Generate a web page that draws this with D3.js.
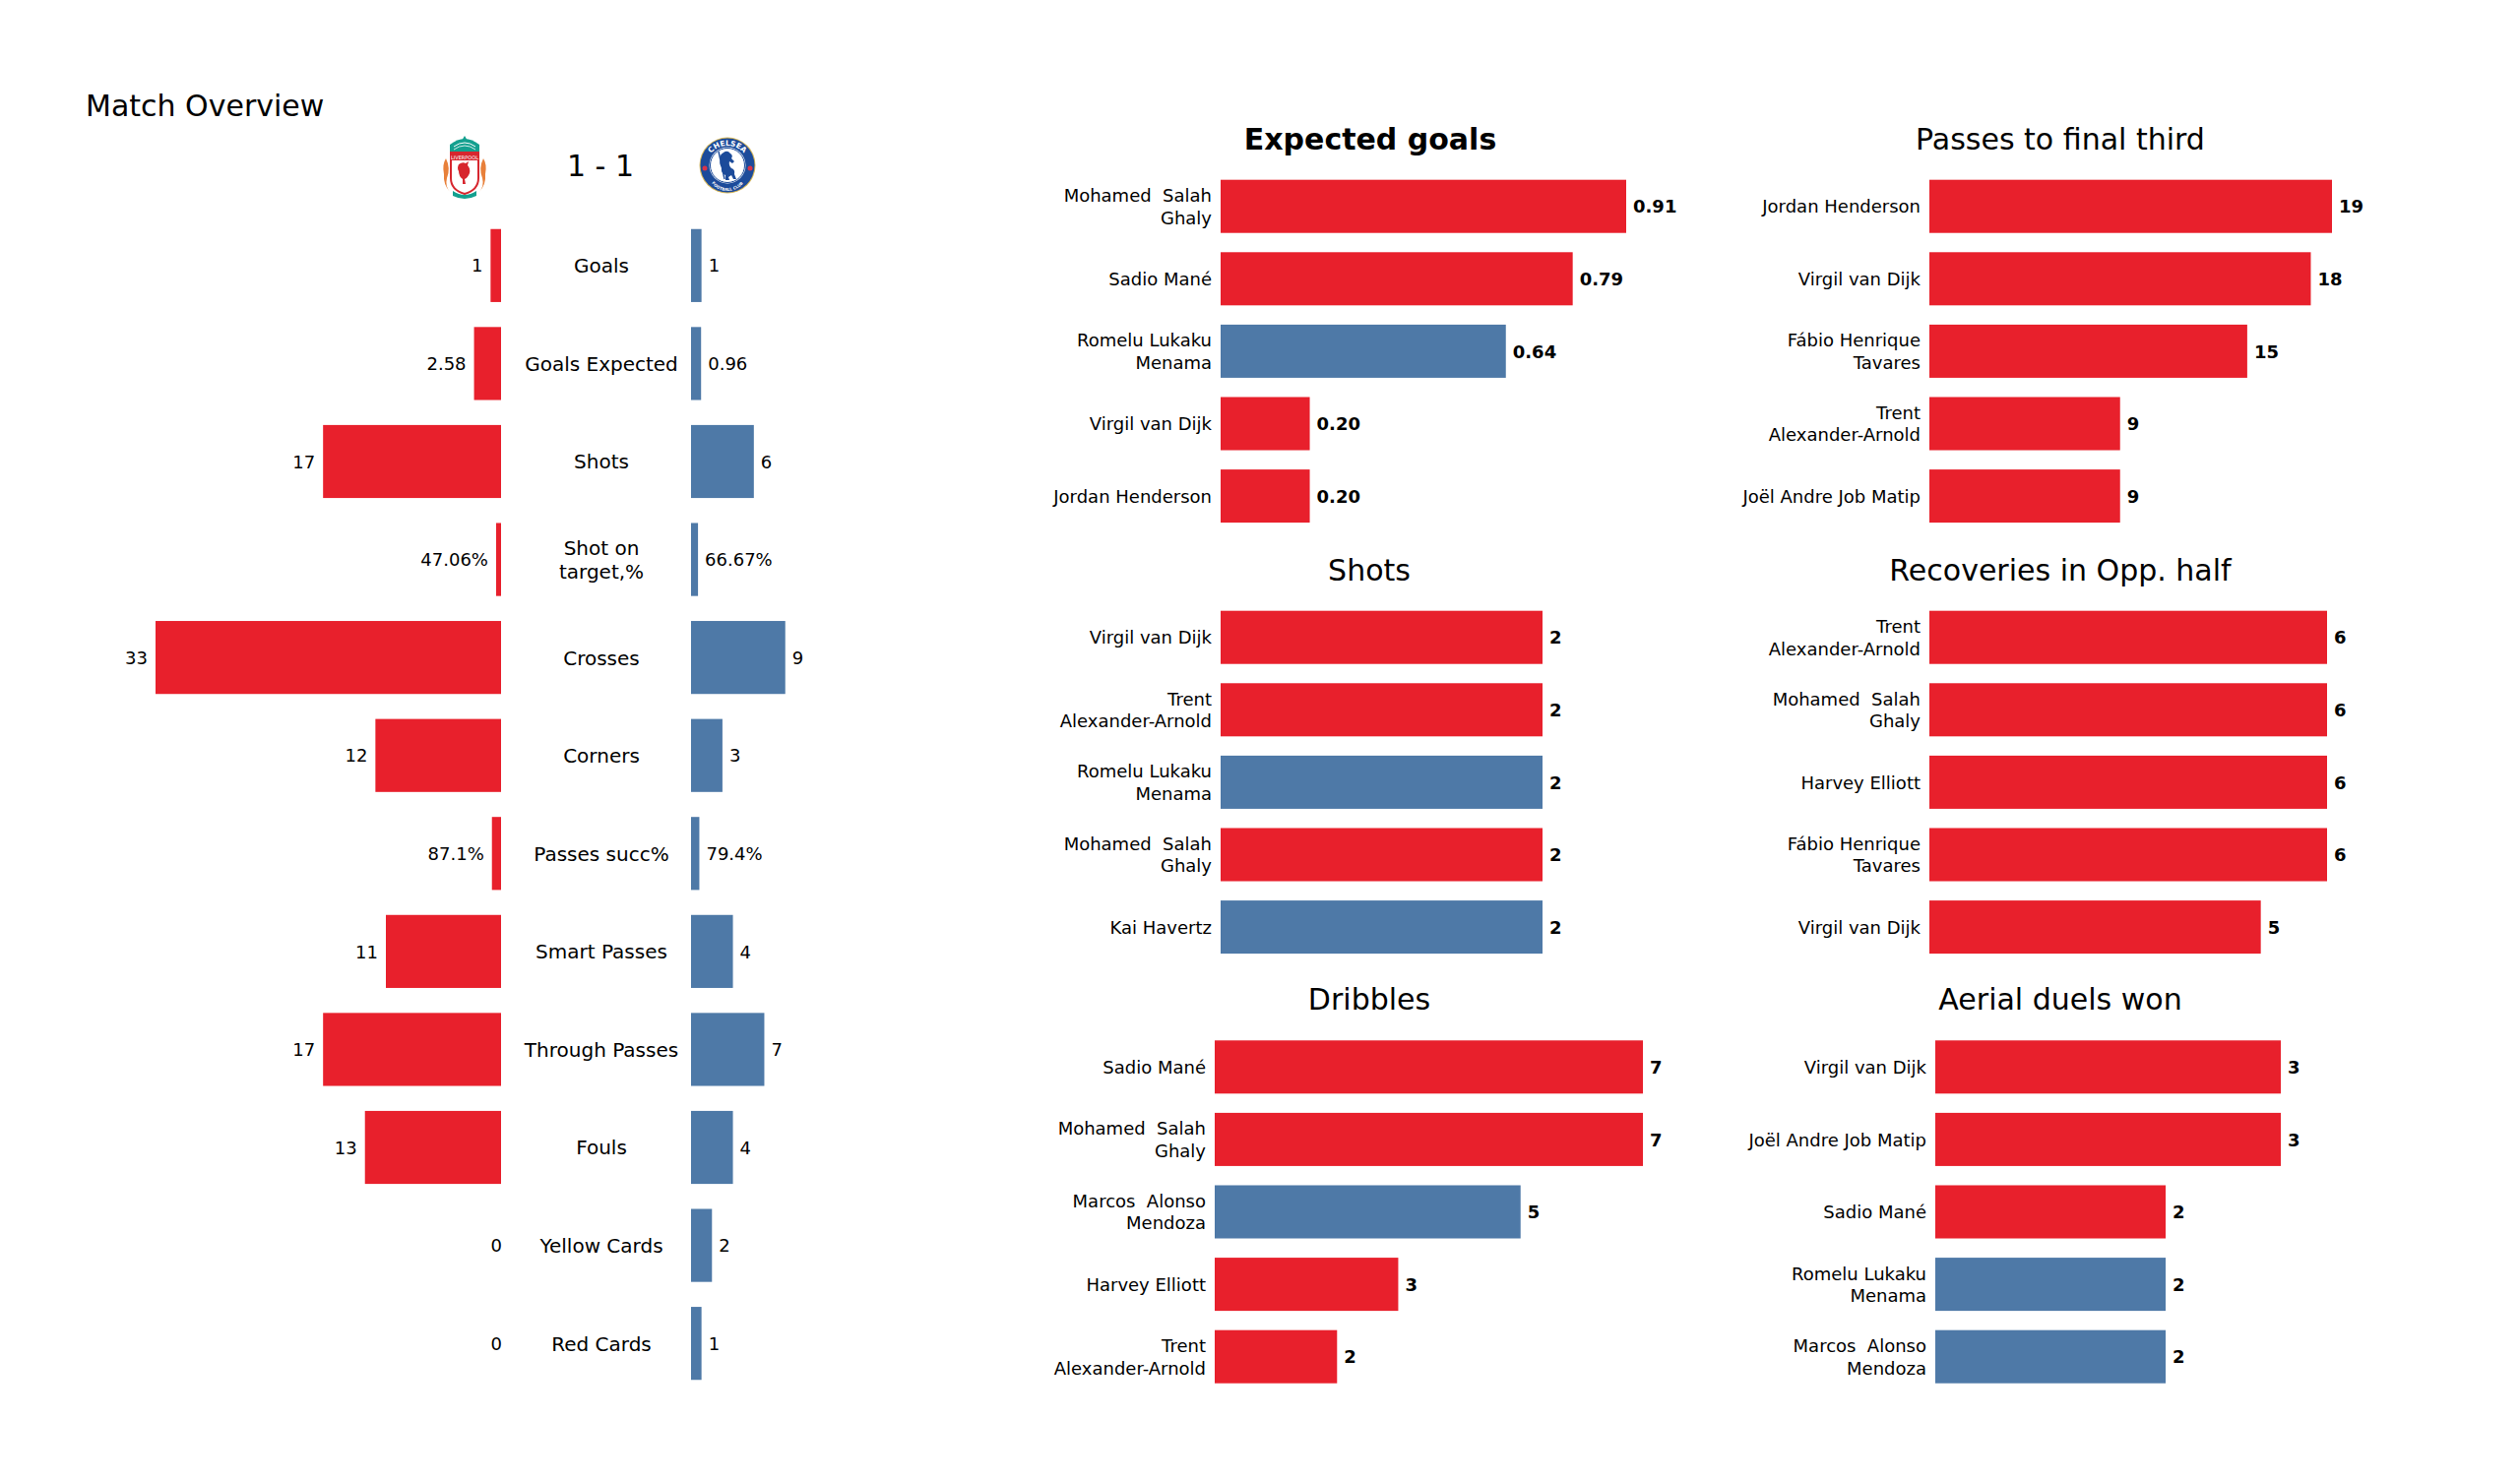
<!DOCTYPE html>
<html>
<head>
<meta charset="utf-8">
<script src="https://cdn.jsdelivr.net/npm/d3@7"></script>
<style>
  html, body { margin: 0; padding: 0; background: #ffffff; }
  svg { display: block; font-family: "DejaVu Sans", sans-serif; }
</style>
</head>
<body>
<div id="chart"></div>
<script>
// ---------------- DATA ----------------
const matchTitle = "Match Overview";
const scoreText = "1 - 1";
const statCategories = ["Goals", "Goals Expected", "Shots", "Shot on\ntarget,%", "Crosses", "Corners",
  "Passes succ%", "Smart Passes", "Through Passes", "Fouls", "Yellow Cards", "Red Cards"];
const liverpoolStats = [1, 2.58, 17, 47.06, 33, 12, 87.1, 11, 17, 13, 0, 0];
const chelseaStats = [1, 0.96, 6, 66.67, 9, 3, 79.4, 4, 7, 4, 2, 1];
const percentStats = ["Shot on\ntarget,%", "Passes succ%"];

const xgTitle = "Expected goals";
const xgPlayers = ["Mohamed  Salah\nGhaly", "Sadio Mané", "Romelu Lukaku\nMenama", "Virgil van Dijk", "Jordan Henderson"];
const xgValues = [0.91, 0.79, 0.64, 0.20, 0.20];
const xgTeams = ["LIV", "LIV", "CHE", "LIV", "LIV"];

const finalThirdTitle = "Passes to final third";
const finalThirdPlayers = ["Jordan Henderson", "Virgil van Dijk", "Fábio Henrique\nTavares", "Trent\nAlexander-Arnold", "Joël Andre Job Matip"];
const finalThirdValues = [19, 18, 15, 9, 9];
const finalThirdTeams = ["LIV", "LIV", "LIV", "LIV", "LIV"];

const shotsTitle = "Shots";
const shotsPlayers = ["Virgil van Dijk", "Trent\nAlexander-Arnold", "Romelu Lukaku\nMenama", "Mohamed  Salah\nGhaly", "Kai Havertz"];
const shotsValues = [2, 2, 2, 2, 2];
const shotsTeams = ["LIV", "LIV", "CHE", "LIV", "CHE"];

const recoveriesTitle = "Recoveries in Opp. half";
const recoveriesPlayers = ["Trent\nAlexander-Arnold", "Mohamed  Salah\nGhaly", "Harvey Elliott", "Fábio Henrique\nTavares", "Virgil van Dijk"];
const recoveriesValues = [6, 6, 6, 6, 5];
const recoveriesTeams = ["LIV", "LIV", "LIV", "LIV", "LIV"];

const dribblesTitle = "Dribbles";
const dribblesPlayers = ["Sadio Mané", "Mohamed  Salah\nGhaly", "Marcos  Alonso\nMendoza", "Harvey Elliott", "Trent\nAlexander-Arnold"];
const dribblesValues = [7, 7, 5, 3, 2];
const dribblesTeams = ["LIV", "LIV", "CHE", "LIV", "LIV"];

const aerialTitle = "Aerial duels won";
const aerialPlayers = ["Virgil van Dijk", "Joël Andre Job Matip", "Sadio Mané", "Romelu Lukaku\nMenama", "Marcos  Alonso\nMendoza"];
const aerialValues = [3, 3, 2, 2, 2];
const aerialTeams = ["LIV", "LIV", "LIV", "CHE", "CHE"];

// ---------------- STYLE / LAYOUT ----------------
const teamColor = { LIV: "#e8202c", CHE: "#4e79a7" };
const W = 2560, H = 1504;

const svg = d3.select("#chart").append("svg")
  .attr("width", W).attr("height", H)
  .attr("viewBox", `0 0 ${W} ${H}`);
svg.append("rect").attr("width", W).attr("height", H).attr("fill", "#ffffff");

// helper: multi-line text centred vertically on y
function multiText(g, str, x, y, size, anchor, weight, lineH) {
  const lines = str.split("\n");
  const t = g.append("text")
    .attr("text-anchor", anchor)
    .attr("font-size", size)
    .attr("font-weight", weight || "normal")
    .attr("fill", "#000")
    .attr("xml:space", "preserve");
  lines.forEach((ln, i) => {
    t.append("tspan")
      .attr("x", x)
      .attr("y", y + (i - (lines.length - 1) / 2) * lineH + 0.37 * size)
      .style("white-space", "pre")
      .text(ln);
  });
  return t;
}

// ---------------- LEFT: MATCH OVERVIEW ----------------
const left = svg.append("g");
left.append("text").attr("x", 87).attr("y", 118).attr("font-size", 30).text(matchTitle);

const centerX = 611;
const redRight = 509;
const blueLeft = 702;

const yStats = d3.scaleBand().domain(statCategories).range([220, 1415]).paddingInner(0.255).paddingOuter(0.128);
const xStats = d3.scaleLinear().domain([0, 33]).range([0, 351]);
const barVal = (c, v) => percentStats.includes(c) ? v / 100 : v;
const fmtVal = (c, v) => percentStats.includes(c) ? v + "%" : String(v);

statCategories.forEach((c, i) => {
  const y0 = yStats(c), bh = yStats.bandwidth(), cy = y0 + bh / 2;
  const wl = xStats(barVal(c, liverpoolStats[i]));
  const wr = xStats(barVal(c, chelseaStats[i]));
  left.append("rect").attr("x", redRight - wl).attr("y", y0).attr("width", wl).attr("height", bh).attr("fill", teamColor.LIV);
  left.append("rect").attr("x", blueLeft).attr("y", y0).attr("width", wr).attr("height", bh).attr("fill", teamColor.CHE);
  const gapL = wl > 0 ? 8 : -1;
  multiText(left, fmtVal(c, liverpoolStats[i]), redRight - wl - gapL, cy, 18, "end", "normal", 22);
  multiText(left, fmtVal(c, chelseaStats[i]), blueLeft + wr + 7, cy, 18, "start", "normal", 22);
  multiText(left, c, centerX, cy, 20, "middle", "normal", 24.5);
});

// score
left.append("text").attr("x", 610).attr("y", 179).attr("text-anchor", "middle").attr("font-size", 30).text(scoreText);

// ---- Liverpool crest (simplified) ----
(function () {
  const g = left.append("g").attr("transform", "translate(472,169)");
  const teal = "#14a08f", red = "#d7262e";
  g.append("path").attr("d", "M-15,-14 L-15,-22 Q0,-34 15,-22 L15,-14 Z").attr("fill", teal);
  g.append("path").attr("d", "M-3,-26 L0,-31 L3,-26 Z").attr("fill", teal);
  g.append("path").attr("d", "M-11,-20 Q0,-28 11,-20").attr("fill", "none").attr("stroke", "#fff").attr("stroke-width", 1);
  g.append("path").attr("d", "M-11,-17 Q0,-25 11,-17").attr("fill", "none").attr("stroke", "#fff").attr("stroke-width", 0.8);
  g.append("path").attr("d", "M-19,-8 Q-14,2 -18,12 Q-20,20 -15,26 Q-22,18 -21,8 Q-23,-2 -19,-8 Z").attr("fill", "#e8803a");
  g.append("path").attr("d", "M19,-8 Q14,2 18,12 Q20,20 15,26 Q22,18 21,8 Q23,-2 19,-8 Z").attr("fill", "#e8803a");
  g.append("path").attr("d", "M-14,-14 L14,-14 L14,12 Q14,24 0,28 Q-14,24 -14,12 Z")
    .attr("fill", "#fff").attr("stroke", red).attr("stroke-width", 2);
  g.append("rect").attr("x", -13).attr("y", -13).attr("width", 26).attr("height", 7).attr("fill", red);
  g.append("text").attr("x", 0).attr("y", -7.5).attr("text-anchor", "middle").attr("font-size", 5).attr("fill", "#fff").text("LIVERPOOL");
  g.append("path").attr("d", "M-6,-2 Q-2,-5 1,-3 L4,-5 L3,-1 Q6,2 5,7 Q3,12 0,13 L1,18 L-2,18 L-2,13 Q-6,10 -6,5 Q-8,2 -6,-2 Z").attr("fill", red);
  g.append("path").attr("d", "M-12,25 Q0,33 12,25 L12,30 Q0,36 -12,30 Z").attr("fill", teal);
})();

// ---- Chelsea crest (simplified) ----
(function () {
  const g = left.append("g").attr("transform", "translate(739,168)");
  const blue = "#1c4b9a";
  g.append("circle").attr("r", 28.5).attr("fill", "#d8b85a");
  g.append("circle").attr("r", 27.5).attr("fill", blue);
  g.append("circle").attr("r", 18.5).attr("fill", "#fff");
  g.append("circle").attr("r", 17.5).attr("fill", "#fff").attr("stroke", blue).attr("stroke-width", 1);
  const defs = svg.append("defs");
  defs.append("path").attr("id", "cheTop").attr("d", "M-22,2 A22,22 0 0,1 22,2");
  defs.append("path").attr("id", "cheBot").attr("d", "M-20,6 A20,20 0 0,0 20,6");
  g.append("text").attr("font-size", 7.5).attr("font-weight", "bold").attr("fill", "#fff")
    .append("textPath").attr("href", "#cheTop").attr("startOffset", "50%").attr("text-anchor", "middle").text("CHELSEA");
  g.append("text").attr("font-size", 4).attr("font-weight", "bold").attr("fill", "#fff")
    .append("textPath").attr("href", "#cheBot").attr("startOffset", "50%").attr("text-anchor", "middle").text("FOOTBALL CLUB");
  g.append("circle").attr("cx", -23).attr("cy", 3).attr("r", 2.5).attr("fill", "#d8344a");
  g.append("circle").attr("cx", 23).attr("cy", 3).attr("r", 2.5).attr("fill", "#d8344a");
  g.append("path").attr("d", "M-4,-13 Q0,-16 3,-12 Q6,-10 4,-7 L7,-4 L5,-2 L2,-4 Q1,0 4,3 Q8,4 7,9 L9,14 L6,14 L4,10 L1,12 L2,15 L-2,15 L-2,10 Q-7,8 -6,2 Q-9,-2 -7,-6 Q-9,-10 -4,-13 Z")
    .attr("fill", blue);
  g.append("line").attr("x1", -9).attr("y1", -14).attr("x2", -3).attr("y2", 14).attr("stroke", blue).attr("stroke-width", 1.4);
})();

// ---------------- RIGHT: PLAYER PANELS ----------------
const panels = [
  { title: xgTitle, bold: true, players: xgPlayers, values: xgValues, teams: xgTeams, fmt: d3.format(".2f"),
    barLeft: 1240, maxW: 412, titleX: 1392, titleY: 152, band: [172.9, 540.9] },
  { title: finalThirdTitle, bold: false, players: finalThirdPlayers, values: finalThirdValues, teams: finalThirdTeams, fmt: d3.format("d"),
    barLeft: 1960, maxW: 409, titleX: 2093, titleY: 152, band: [172.9, 540.9] },
  { title: shotsTitle, bold: false, players: shotsPlayers, values: shotsValues, teams: shotsTeams, fmt: d3.format("d"),
    barLeft: 1240, maxW: 327, titleX: 1391, titleY: 590, band: [610.9, 978.9] },
  { title: recoveriesTitle, bold: false, players: recoveriesPlayers, values: recoveriesValues, teams: recoveriesTeams, fmt: d3.format("d"),
    barLeft: 1960, maxW: 404, titleX: 2093, titleY: 590, band: [610.9, 978.9] },
  { title: dribblesTitle, bold: false, players: dribblesPlayers, values: dribblesValues, teams: dribblesTeams, fmt: d3.format("d"),
    barLeft: 1234, maxW: 435, titleX: 1391, titleY: 1026, band: [1047.5, 1415.5] },
  { title: aerialTitle, bold: false, players: aerialPlayers, values: aerialValues, teams: aerialTeams, fmt: d3.format("d"),
    barLeft: 1966, maxW: 351, titleX: 2093, titleY: 1026, band: [1047.5, 1415.5] }
];

panels.forEach(p => {
  const g = svg.append("g");
  const idx = d3.range(p.players.length);
  const y = d3.scaleBand().domain(idx).range(p.band).paddingInner(0.266).paddingOuter(0.133);
  const x = d3.scaleLinear().domain([0, d3.max(p.values)]).range([p.barLeft, p.barLeft + p.maxW]);

  g.append("text").attr("x", p.titleX).attr("y", p.titleY).attr("text-anchor", "middle")
    .attr("font-size", 30).attr("font-weight", p.bold ? "bold" : "normal").text(p.title);

  g.selectAll("rect.bar").data(idx).join("rect").attr("class", "bar")
    .attr("x", x(0)).attr("y", i => y(i))
    .attr("width", i => x(p.values[i]) - x(0)).attr("height", y.bandwidth())
    .attr("fill", i => teamColor[p.teams[i]]);

  idx.forEach(i => {
    const cy = y(i) + y.bandwidth() / 2;
    multiText(g, p.players[i], p.barLeft - 9, cy, 18, "end", "normal", 22.5);
    multiText(g, p.fmt(p.values[i]), x(p.values[i]) + 7, cy, 18, "start", "bold", 22);
  });
});
</script>
</body>
</html>
